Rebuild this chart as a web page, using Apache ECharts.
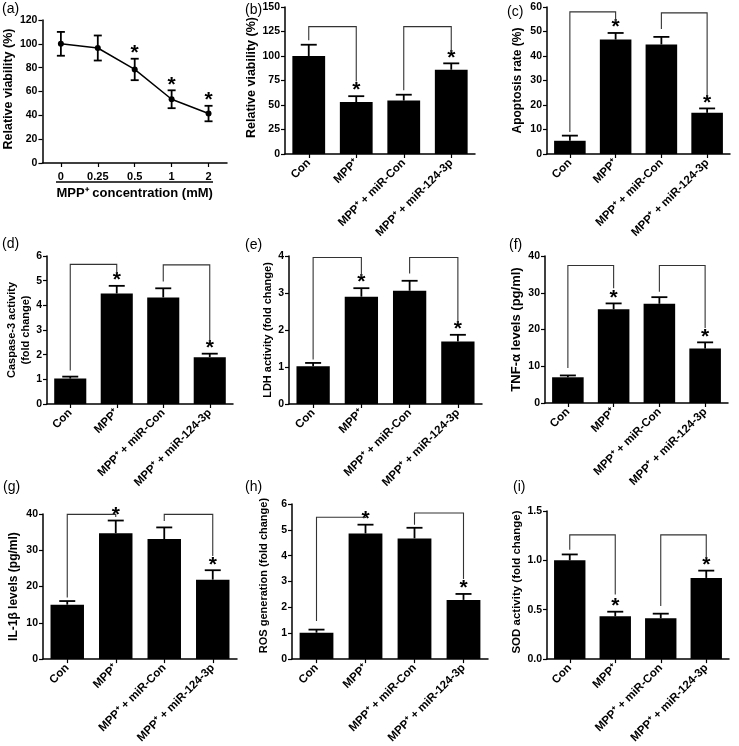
<!DOCTYPE html>
<html><head><meta charset="utf-8">
<script src="https://cdn.jsdelivr.net/npm/echarts@6/dist/echarts.min.js"></script>
<style>html,body{margin:0;padding:0;background:#fff}#c{width:739px;height:746px}</style>
</head><body><div id="c"></div>
<script>
// ---------- DATA ----------
const groups = ['Con', 'MPP⁺', 'MPP⁺ + miR-Con', 'MPP⁺ + miR-124-3p'];
const concLabels = ['0', '0.25', '0.5', '1', '2'];

// (a) dose response
const aMean = [100, 96.5, 78.5, 53.5, 41.5];
const aErr  = [10, 10.5, 9, 7.5, 6.5];
const aSig  = [0, 0, 1, 1, 1];

// bar panels: mean, upper error, significance, brackets [from, to, top, leftEnd, rightEnd]
const bMean = [100, 53, 54.5, 86];      const bErr = [11.5, 6, 6, 6.5];        const bSig = [0, 1, 0, 1];
const bBrk  = [[0, 1, 130, 116, 74], [2, 3, 130, 65, 104]];
const cMean = [5.4, 46.7, 44.7, 16.8];   const cErr = [2.1, 2.7, 3.1, 1.8];     const cSig = [0, 1, 0, 1];
const cBrk  = [[0, 1, 58, 9, 54], [2, 3, 57.6, 51, 23.5]];
const dMean = [1.03, 4.48, 4.32, 1.9];   const dErr = [0.08, 0.31, 0.37, 0.14]; const dSig = [0, 1, 0, 1];
const dBrk  = [[0, 1, 5.66, 1.36, 5.3], [2, 3, 5.64, 4.97, 2.5]];
const eMean = [1.02, 2.9, 3.06, 1.69];   const eErr = [0.09, 0.23, 0.27, 0.18]; const eSig = [0, 1, 0, 1];
const eBrk  = [[0, 1, 3.96, 1.2, 3.44], [2, 3, 3.96, 3.53, 2.18]];
const fMean = [7, 25.5, 27, 14.8];       const fErr = [0.5, 1.6, 1.8, 1.7];     const fSig = [0, 1, 0, 1];
const fBrk  = [[0, 1, 37.4, 9.5, 31.2], [2, 3, 37.4, 30.3, 20.4]];
const gMean = [15, 34.7, 33.1, 21.9];    const gErr = [1.0, 3.5, 3.2, 2.6];     const gSig = [0, 1, 0, 1];
const gBrk  = [[0, 1, 39.9, 17, 39.2], [2, 3, 39.9, 38.1, 28.4]];
const hMean = [1.02, 4.86, 4.67, 2.29];  const hErr = [0.12, 0.34, 0.41, 0.23]; const hSig = [0, 1, 0, 1];
const hBrk  = [[0, 1, 5.49, 1.47, 5.46], [2, 3, 5.65, 5.2, 3.1]];
const iMean = [1.0, 0.433, 0.413, 0.822]; const iErr = [0.06, 0.047, 0.047, 0.074]; const iSig = [0, 1, 0, 1];
const iBrk  = [[0, 1, 1.258, 1.107, 0.654], [2, 3, 1.258, 0.537, 1.023]];

const yTitles = ['Relative viability (%)', 'Relative viability (%)', 'Apoptosis rate (%)',
  'Caspase-3 activity\n(fold change)', 'LDH activity (fold change)', 'TNF-α levels (pg/ml)',
  'IL-1β levels (pg/ml)', 'ROS generation (fold change)', 'SOD activity (fold change)'];
const panelTags = ['(a)', '(b)', '(c)', '(d)', '(e)', '(f)', '(g)', '(h)', '(i)'];
const yMax = [120, 150, 60, 6, 4, 40, 40, 6, 1.5];
const yStep = [20, 25, 10, 1, 1, 10, 10, 1, 0.5];

// ---------- LAYOUT ----------
const FF = '"Liberation Sans", Arial, sans-serif';
// [left(axis x), right end, top, bottom(baseline)]
const boxes = [
  [42, 227, 20, 163], [285, 475, 7, 154], [547, 730, 7, 154],
  [47, 233, 256, 404], [289, 482, 256, 404], [545, 728, 256, 403],
  [43, 237, 514, 661], [292, 488, 504, 661], [547, 729, 511, 660]
];
const nameSize = [12.5, 12.5, 12, 11, 11, 13, 12, 11, 11.5];
const nameGap = [22, 23, 22, 13, 14, 20, 22, 21, 23];
const namePadL = [5, 6, 0, 0, 0, 0, 0, 12, 6];
const tagPos = [[2, 2], [245, 3], [507, 5], [2, 237], [245, 238], [509, 238], [3, 480], [245, 480], [513, 480]];

const barSets = [
  [bMean, bErr, bSig, bBrk], [cMean, cErr, cSig, cBrk], [dMean, dErr, dSig, dBrk],
  [eMean, eErr, eSig, eBrk], [fMean, fErr, fSig, fBrk], [gMean, gErr, gSig, gBrk],
  [hMean, hErr, hSig, hBrk], [iMean, iErr, iSig, iBrk]
];

const grids = [], xAxes = [], yAxes = [], series = [], graphics = [];

boxes.forEach((bx, k) => {
  grids.push({ left: bx[0], top: bx[2], width: bx[1] - bx[0], height: bx[3] - bx[2], containLabel: false });
  const isA = k === 0;
  xAxes.push({
    type: 'category', gridIndex: k, data: isA ? concLabels : groups, boundaryGap: true,
    axisLine: { lineStyle: { color: '#000', width: 1.5 } },
    axisTick: { show: true, alignWithLabel: true, length: 4, lineStyle: { color: '#000', width: 1.2 } },
    axisLabel: isA
      ? { color: '#000', fontFamily: FF, fontWeight: 'bold', fontSize: 11, margin: 8, interval: 0 }
      : { color: '#000', fontFamily: FF, fontWeight: 'bold', fontSize: 11.5, rotate: 45, margin: 7, interval: 0 },
    name: isA ? 'MPP⁺ concentration (mM)' : '',
    nameLocation: 'middle', nameGap: 24,
    nameTextStyle: { color: '#000', fontFamily: FF, fontWeight: 'bold', fontSize: 13 },
    splitLine: { show: false }
  });
  yAxes.push({
    type: 'value', gridIndex: k, min: 0, max: yMax[k], interval: yStep[k],
    axisLine: { show: true, lineStyle: { color: '#000', width: 1.5 } },
    axisTick: { show: true, length: 4, lineStyle: { color: '#000', width: 1.2 } },
    axisLabel: {
      color: '#000', fontFamily: FF, fontWeight: 'bold', fontSize: 10.5, margin: 5,
      formatter: k === 8 ? (v => v.toFixed(1)) : (v => String(v))
    },
    splitLine: { show: false },
    name: yTitles[k], nameLocation: 'middle', nameGap: nameGap[k], nameRotate: 90,
    nameTextStyle: { color: '#000', fontFamily: FF, fontWeight: 'bold', fontSize: nameSize[k],
      lineHeight: nameSize[k] * 1.2, padding: [0, 0, 0, namePadL[k]] }
  });
  graphics.push({ type: 'text', left: tagPos[k][0], top: tagPos[k][1],
    style: { text: panelTags[k], font: '14px ' + FF, fill: '#000' } });
});

function errRender(capHalf, both, lw) {
  return function (params, api) {
    const i = api.value(0), m = api.value(1), e = api.value(2), s = api.value(3);
    const pTop = api.coord([i, m + e]);
    const pBot = api.coord([i, both ? m - e : m]);
    const st = { stroke: '#000', lineWidth: lw };
    const ch = [
      { type: 'line', shape: { x1: pTop[0], y1: pTop[1], x2: pBot[0], y2: pBot[1] }, style: st },
      { type: 'line', shape: { x1: pTop[0] - capHalf, y1: pTop[1], x2: pTop[0] + capHalf, y2: pTop[1] }, style: st }
    ];
    if (both) ch.push({ type: 'line', shape: { x1: pBot[0] - capHalf, y1: pBot[1], x2: pBot[0] + capHalf, y2: pBot[1] }, style: st });
    if (s) ch.push({ type: 'text', x: pTop[0], y: pTop[1] + 5,
      style: { text: '*', font: 'bold 21px ' + FF, fill: '#000', align: 'center', verticalAlign: 'bottom' } });
    return { type: 'group', children: ch };
  };
}
function brkRender(params, api) {
  const a = api.value(0), b = api.value(1), t = api.value(2), l = api.value(3), r = api.value(4);
  const pts = [api.coord([a, l]), api.coord([a, t]), api.coord([b, t]), api.coord([b, r])];
  return { type: 'polyline', shape: { points: pts }, style: { stroke: '#333', lineWidth: 1.1, fill: null } };
}

// (a) line
series.push({ type: 'line', xAxisIndex: 0, yAxisIndex: 0, data: aMean, symbol: 'circle', symbolSize: 6,
  itemStyle: { color: '#000' }, lineStyle: { color: '#000', width: 1.5 }, z: 3, animation: false });
series.push({ type: 'custom', xAxisIndex: 0, yAxisIndex: 0, renderItem: errRender(4, true, 1.8),
  data: aMean.map((m, i) => [i, m, aErr[i], aSig[i]]), encode: { x: 0, y: 1 }, z: 4, animation: false });

barSets.forEach((set, j) => {
  const k = j + 1;
  const [mean, err, sig, brk] = set;
  series.push({ type: 'bar', xAxisIndex: k, yAxisIndex: k, data: mean, barWidth: '69%',
    itemStyle: { color: '#000' }, animation: false });
  series.push({ type: 'custom', xAxisIndex: k, yAxisIndex: k, renderItem: errRender(8, false, 1.8),
    data: mean.map((m, i) => [i, m, err[i], sig[i]]), encode: { x: 0, y: 1 }, z: 4, animation: false });
  series.push({ type: 'custom', xAxisIndex: k, yAxisIndex: k, renderItem: brkRender,
    data: brk, encode: { x: [0, 1], y: [2, 3, 4] }, z: 5, animation: false });
});

// underline below (a) tick labels
graphics.push({ type: 'line', shape: { x1: 56, y1: 182, x2: 213, y2: 182 }, style: { stroke: '#000', lineWidth: 1.3 } });

const chart = echarts.init(document.getElementById('c'), null, { renderer: 'canvas' });
chart.setOption({
  backgroundColor: '#fff', animation: false,
  grid: grids, xAxis: xAxes, yAxis: yAxes, series: series, graphic: graphics
});
</script>
</body></html>
